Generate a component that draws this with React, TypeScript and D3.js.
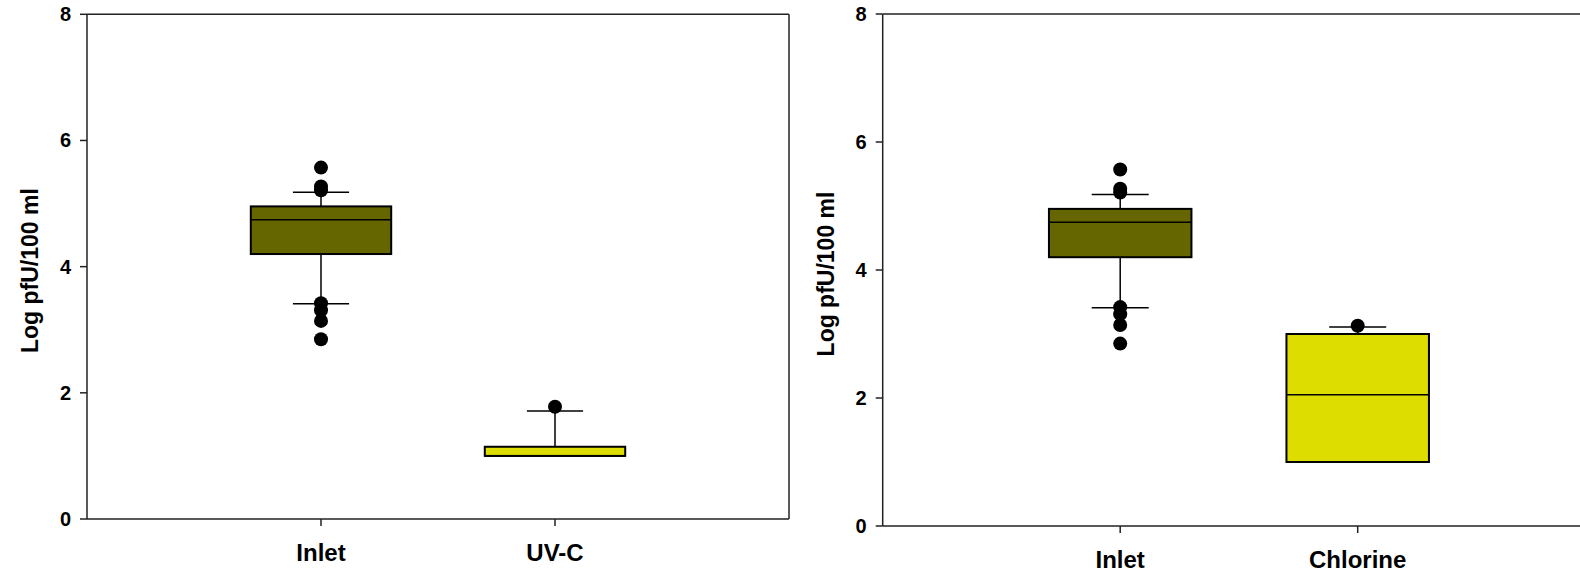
import React from "react";
import * as d3 from "d3";

const yTicks = [0, 2, 4, 6, 8];
const leftCategories = ["Inlet", "UV-C"];
const rightCategories = ["Inlet", "Chlorine"];

// box statistics per category (log pfU/100 ml)
const leftQ1 = [4.2, 1.0];
const leftMedian = [4.745, 1.0];
const leftQ3 = [4.955, 1.145];
const leftWhiskerLow = [3.41, 1.0];
const leftWhiskerHigh = [5.18, 1.71];
const leftOutliers = [
  [5.57, 5.27, 5.21, 3.42, 3.31, 3.14, 2.85],
  [1.78],
];

const rightQ1 = [4.2, 1.0];
const rightMedian = [4.745, 2.05];
const rightQ3 = [4.955, 3.0];
const rightWhiskerLow = [3.41, 1.0];
const rightWhiskerHigh = [5.18, 3.11];
const rightOutliers = [
  [5.57, 5.27, 5.21, 3.42, 3.31, 3.14, 2.85],
  [3.13],
];

const fills = ["#666600", "#dddd00"];
const FONT = "'Liberation Sans', Arial, Helvetica, sans-serif";

type PanelProps = {
  x0: number;
  x1: number;
  yTop: number;
  yBottom: number;
  categories: string[];
  q1: number[];
  median: number[];
  q3: number[];
  wLow: number[];
  wHigh: number[];
  outliers: number[][];
  drawRight: boolean;
};

function Panel(p: PanelProps) {
  const x = d3.scaleLinear().domain([0, 3]).range([p.x0, p.x1]);
  const y = d3.scaleLinear().domain([0, 8]).range([p.yBottom, p.yTop]);
  const boxW = x(0.6) - x(0);
  const capW = x(0.12) - x(0);
  const axisColor = "#222";
  return (
    <g>
      <line x1={x(0)} x2={x(3)} y1={y(8)} y2={y(8)} stroke={axisColor} strokeWidth={1.5} />
      {p.drawRight && (
        <line x1={x(3)} x2={x(3)} y1={y(8)} y2={y(0)} stroke={axisColor} strokeWidth={1.5} />
      )}
      <line x1={x(0)} x2={x(0)} y1={y(8)} y2={y(0)} stroke={axisColor} strokeWidth={1.5} />
      <line x1={x(0)} x2={x(3)} y1={y(0)} y2={y(0)} stroke={axisColor} strokeWidth={1.5} />
      {yTicks.map((t) => (
        <g key={t}>
          <line x1={x(0) - 7} x2={x(0)} y1={y(t)} y2={y(t)} stroke={axisColor} strokeWidth={1.5} />
          <text
            x={x(0) - 16}
            y={y(t)}
            textAnchor="end"
            dominantBaseline="central"
            fontFamily={FONT}
            fontWeight="bold"
            fontSize={20}
          >
            {t}
          </text>
        </g>
      ))}
      <text
        transform={`translate(${x(0) - 57},${(y(8) + y(0)) / 2 + 4}) rotate(-90)`}
        textAnchor="middle"
        dominantBaseline="central"
        fontFamily={FONT}
        fontWeight="bold"
        fontSize={23}
      >
        Log pfU/100 ml
      </text>
      {p.categories.map((c, i) => {
        const cx = x(i + 1);
        return (
          <g key={c}>
            <line x1={cx} x2={cx} y1={y(0)} y2={y(0) + 7} stroke={axisColor} strokeWidth={1.5} />
            <text
              x={cx}
              y={y(0) + 33}
              textAnchor="middle"
              dominantBaseline="central"
              fontFamily={FONT}
              fontWeight="bold"
              fontSize={24}
            >
              {c}
            </text>
            <line x1={cx} x2={cx} y1={y(p.q3[i])} y2={y(p.wHigh[i])} stroke="#000" strokeWidth={1.5} />
            <line x1={cx - capW} x2={cx + capW} y1={y(p.wHigh[i])} y2={y(p.wHigh[i])} stroke="#000" strokeWidth={1.5} />
            {p.wLow[i] < p.q1[i] && (
              <>
                <line x1={cx} x2={cx} y1={y(p.q1[i])} y2={y(p.wLow[i])} stroke="#000" strokeWidth={1.5} />
                <line x1={cx - capW} x2={cx + capW} y1={y(p.wLow[i])} y2={y(p.wLow[i])} stroke="#000" strokeWidth={1.5} />
              </>
            )}
            <rect
              x={cx - boxW / 2}
              y={y(p.q3[i])}
              width={boxW}
              height={y(p.q1[i]) - y(p.q3[i])}
              fill={fills[i]}
              stroke="#000"
              strokeWidth={2}
            />
            <line x1={cx - boxW / 2} x2={cx + boxW / 2} y1={y(p.median[i])} y2={y(p.median[i])} stroke="#000" strokeWidth={1.5} />
            {p.outliers[i].map((o, k) => (
              <circle key={k} cx={cx} cy={y(o)} r={7} fill="#000" />
            ))}
          </g>
        );
      })}
    </g>
  );
}

export default function App() {
  return (
    <svg
      width={1580}
      height={572}
      style={{ position: "absolute", left: 0, top: 0, background: "#fff" }}
    >
      <rect width={1580} height={572} fill="#fff" />
      <Panel
        x0={87}
        x1={789}
        yTop={14.3}
        yBottom={519}
        categories={leftCategories}
        q1={leftQ1}
        median={leftMedian}
        q3={leftQ3}
        wLow={leftWhiskerLow}
        wHigh={leftWhiskerHigh}
        outliers={leftOutliers}
        drawRight={true}
      />
      <Panel
        x0={882.7}
        x1={1595.2}
        yTop={14}
        yBottom={526}
        categories={rightCategories}
        q1={rightQ1}
        median={rightMedian}
        q3={rightQ3}
        wLow={rightWhiskerLow}
        wHigh={rightWhiskerHigh}
        outliers={rightOutliers}
        drawRight={false}
      />
    </svg>
  );
}
